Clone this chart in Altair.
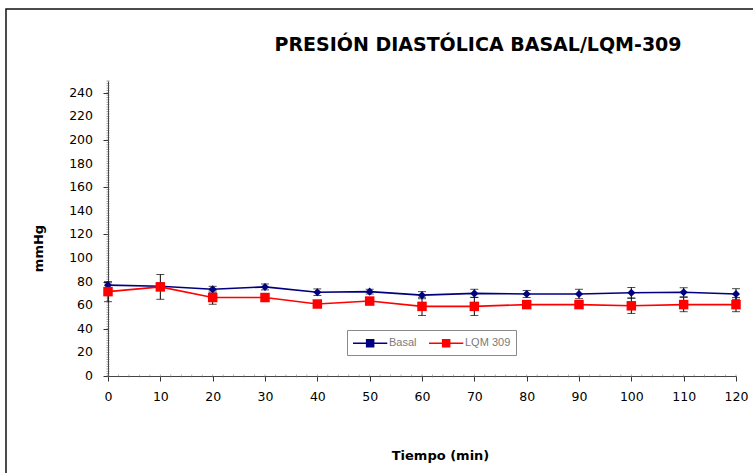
import altair as alt
import pandas as pd

# Diastolic pressure (mmHg) over time, mean and SD per group
tiempo = [0, 10, 20, 30, 40, 50, 60, 70, 80, 90, 100, 110, 120]
basal = [77, 76, 73.5, 75.5, 71, 71.5, 68.5, 70, 69.5, 69.5, 70.5, 71, 69.5]
basal_sd = [2, 3, 2.5, 2.5, 2.8, 2, 3, 3.5, 3, 4, 4.5, 3.8, 4.5]
lqm = [71.5, 75.5, 66.5, 66.5, 61, 63.5, 59, 59, 60.5, 60.5, 59.5, 60.5, 60.5]
lqm_sd = [8.5, 10.5, 5.7, 3.3, 1.5, 2, 7.7, 7.7, 2, 2, 6.5, 6, 6]

series = ["Basal", "LQM 309"]
colors = ["#000080", "#ff0000"]

y_ticks = list(range(0, 241, 20))
x_ticks = list(range(0, 121, 10))
y_minor = list(range(0, 251, 2))
x_minor = list(range(0, 121, 2))

rows = []
for name, mean, sd in ((series[0], basal, basal_sd), (series[1], lqm, lqm_sd)):
    for t, m, s in zip(tiempo, mean, sd):
        rows.append({"serie": name, "t": t, "m": m, "lo": m - s, "hi": m + s})
df = pd.DataFrame(rows)

W, H = 628, 295
xs = alt.Scale(domain=[0, 120], nice=False)
ys = alt.Scale(domain=[0, 250], nice=False)
cs = alt.Scale(domain=series, range=colors)

# One axis definition shared by every layer so the merged axes agree
x_axis = alt.Axis(values=x_ticks, title="Tiempo (min)", titleX=332, titleY=79,
                  titleBaseline="middle", titleAlign="center", labelFlush=False,
                  labelOverlap=False)
# y tick labels are drawn by their own text layer below
y_axis = alt.Axis(values=y_ticks, title="mmHg", titleX=-70, titleY=167,
                  titleBaseline="middle", titleAlign="center", titleAngle=-90,
                  labels=False)


def X(field):
    return alt.X(field, scale=xs, axis=x_axis)


def Y(field):
    return alt.Y(field, scale=ys, axis=y_axis)


leg = alt.Legend(
    title=None, orient="none", legendX=239, legendY=249, direction="horizontal",
    symbolType="M-1,0H3.9M0.95,-0.5H1.95V0.5H0.95Z", symbolSize=196,
    symbolStrokeWidth=1.5, labelOffset=21, columnPadding=9,
    labelFont="Liberation Sans", labelFontSize=11, labelColor="#7a7a7a",
    strokeColor="#8a8a8a", fillColor="white", padding=5,
)
color = alt.Color("serie:N", scale=cs, legend=leg)

base = alt.Chart(df)

lines = base.mark_line(strokeWidth=1.6).encode(
    x=X("t:Q"), y=Y("m:Q"), color=color, detail="serie:N",
)

err_rule = base.mark_rule(color="black", strokeWidth=1).encode(
    x=X("t:Q"), y=Y("lo:Q"), y2="hi:Q"
)
err_lo = base.mark_tick(color="black", orient="horizontal", size=8, thickness=1).encode(
    x=X("t:Q"), y=Y("lo:Q")
)
err_hi = base.mark_tick(color="black", orient="horizontal", size=8, thickness=1).encode(
    x=X("t:Q"), y=Y("hi:Q")
)

pts_basal = base.transform_filter(alt.datum.serie == "Basal").mark_point(
    filled=True, opacity=1, shape="diamond", size=65
).encode(x=X("t:Q"), y=Y("m:Q"), color=color)

pts_lqm = base.transform_filter(alt.datum.serie == "LQM 309").mark_point(
    filled=True, opacity=1, shape="square", size=90
).encode(x=X("t:Q"), y=Y("m:Q"), color=color)

y_minor_ticks = alt.Chart(pd.DataFrame({"v": y_minor})).mark_tick(
    orient="horizontal", size=3, thickness=0.8, color="#555"
).encode(x=alt.datum(0, scale=xs), y=Y("v:Q"))

x_minor_ticks = alt.Chart(pd.DataFrame({"v": x_minor})).mark_tick(
    orient="vertical", size=3, thickness=0.8, color="#777"
).encode(x=X("v:Q"), y=alt.datum(0, scale=ys))

y_labels = alt.Chart(pd.DataFrame({"v": y_ticks})).mark_text(
    align="right", baseline="middle", font="DejaVu Sans", fontSize=12.5, color="black"
).encode(x=alt.value(-15), y=Y("v:Q"), text=alt.Text("v:Q"))

one = pd.DataFrame({"k": [0]})
frame = alt.Chart(one).mark_rect(fillOpacity=0, stroke="#111", strokeWidth=1.5).encode(
    x=alt.value(-102), x2=alt.value(700), y=alt.value(-72), y2=alt.value(450)
)
title = alt.Chart(one).mark_text(
    text="PRESIÓN DIASTÓLICA BASAL/LQM-309", font="DejaVu Sans", fontWeight="bold",
    fontSize=19, align="center", baseline="alphabetic", color="black",
).encode(x=alt.value(370), y=alt.value(-30))

chart = alt.layer(
    lines, frame, title, y_minor_ticks, x_minor_ticks, y_labels,
    err_rule, err_lo, err_hi, pts_basal, pts_lqm
).properties(
    width=W, height=H,
    autosize=alt.AutoSizeParams(type="none"),
    padding={"left": 108, "top": 81, "right": 17, "bottom": 97},
    background="white",
).configure_view(
    stroke=None
).configure_axis(
    grid=False,
    domainColor="#444", domainWidth=1,
    tickColor="#333", tickSize=5, tickWidth=1,
    labelFont="DejaVu Sans", labelFontSize=12.5, labelColor="black", labelPadding=9,
    titleFont="DejaVu Sans", titleFontSize=13, titleFontWeight="bold", titleColor="black",
)

chart.save("out.html", embed_options={"renderer": "svg", "actions": False})
